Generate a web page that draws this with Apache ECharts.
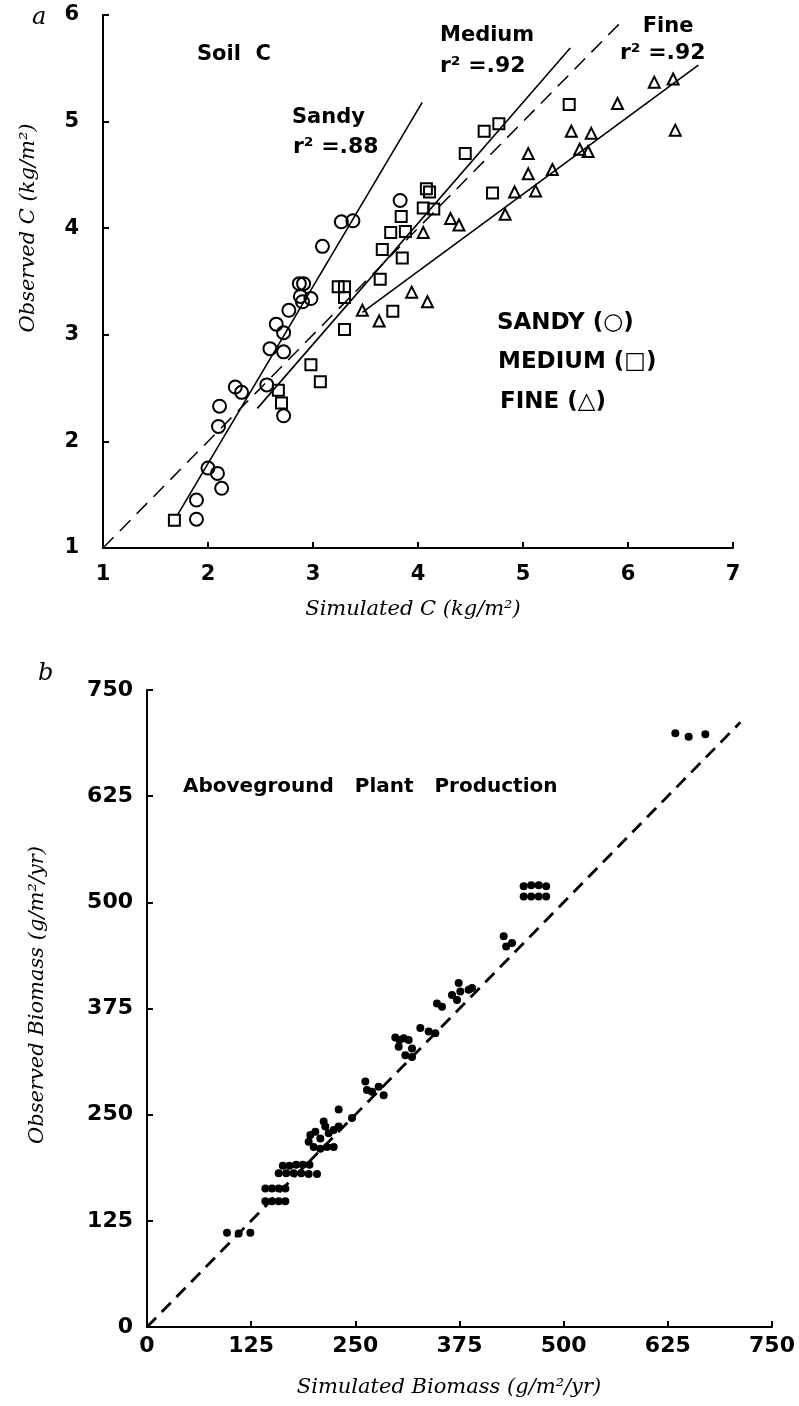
<!DOCTYPE html>
<html>
<head>
<meta charset="utf-8">
<script src="https://cdn.jsdelivr.net/npm/echarts@6/dist/echarts.min.js"></script>
<style>
  html, body { margin: 0; padding: 0; background: #fff; }
  #chart { width: 799px; height: 1406px; }
</style>
</head>
<body>
<div id="chart"></div>
<script>
// panel a: [simulated, observed] soil C, kg/m2
const sandyPts = [
  [1.89, 1.27], [1.89, 1.45], [2.0, 1.75], [2.09, 1.70], [2.13, 1.56],
  [2.10, 2.14], [2.11, 2.33], [2.26, 2.51], [2.32, 2.46], [2.56, 2.53],
  [2.72, 2.24], [2.59, 2.87], [2.72, 2.84], [2.65, 3.10], [2.72, 3.02],
  [2.77, 3.23], [2.88, 3.36], [2.90, 3.31], [2.98, 3.34], [2.87, 3.48],
  [2.91, 3.48], [3.09, 3.83], [3.27, 4.06], [3.38, 4.07], [3.83, 4.26]
];
const mediumPts = [
  [1.68, 1.26], [2.67, 2.48], [2.70, 2.36], [2.98, 2.72], [3.07, 2.56],
  [3.30, 3.05], [3.24, 3.45], [3.30, 3.45], [3.30, 3.35], [3.76, 3.22],
  [3.64, 3.52], [3.66, 3.80], [3.85, 3.72], [3.74, 3.96], [3.88, 3.97],
  [3.84, 4.11], [4.05, 4.19], [4.15, 4.18], [4.08, 4.37], [4.11, 4.34],
  [4.45, 4.70], [4.71, 4.33], [4.63, 4.91], [4.77, 4.98], [5.44, 5.16]
];
const finePts = [
  [3.47, 3.23], [3.63, 3.13], [3.94, 3.40], [4.09, 3.31], [4.05, 3.96],
  [4.31, 4.09], [4.39, 4.03], [4.83, 4.13], [4.92, 4.34], [5.12, 4.35],
  [5.05, 4.51], [5.05, 4.70], [5.28, 4.55], [5.46, 4.91], [5.65, 4.89],
  [5.54, 4.74], [5.62, 4.72], [5.90, 5.17], [6.25, 5.37], [6.43, 5.40],
  [6.45, 4.92]
];
// regression lines (end points) and 1:1 line
const sandyFit = [[1.71, 1.31], [4.04, 5.18]];
const mediumFit = [[2.47, 2.31], [5.45, 5.69]];
const fineFit = [[3.47, 3.21], [6.67, 5.53]];
const oneToOneA = [[1, 1], [5.95, 5.95]];

// panel b: [simulated, observed] biomass, g/m2/yr
const biomassPts = [
  [96, 111], [110, 110], [124, 111],
  [142, 163], [150, 163], [158, 163], [166, 163],
  [142, 148], [150, 148], [158, 148], [166, 148],
  [163, 190], [171, 190], [179, 191], [187, 191], [195, 191],
  [158, 181], [167, 181], [176, 181], [185, 181], [194, 180], [204, 180],
  [196, 226], [202, 230], [208, 222], [214, 236], [218, 228], [224, 232],
  [230, 236], [200, 212], [208, 210], [216, 212], [224, 212], [212, 242],
  [194, 218], [230, 256], [246, 246],
  [262, 289], [264, 279], [270, 277], [278, 283], [284, 273],
  [298, 341], [303, 338], [308, 340], [314, 338], [318, 328], [318, 318],
  [310, 320], [302, 330],
  [328, 352], [338, 348], [346, 346],
  [348, 381], [354, 377], [366, 391], [372, 385], [374, 405], [376, 395],
  [386, 397], [390, 399],
  [428, 460], [438, 452], [431, 448],
  [452, 519], [461, 520], [470, 520], [479, 519],
  [452, 507], [461, 507], [470, 507], [479, 507],
  [634, 699], [650, 695], [670, 698]
];
const oneToOneB = [[0, 0], [712, 712]];

const chart = echarts.init(document.getElementById('chart'));

const numFont = 'DejaVu Sans';
const capFont = '"DejaVu Serif", serif';

const axisCommon = {
  axisLine: { show: true, lineStyle: { color: '#000', width: 2 } },
  axisTick: { show: true, inside: true, length: 6, lineStyle: { color: '#000', width: 2 } },
  splitLine: { show: false },
  axisLabel: { color: '#000', fontFamily: numFont, fontWeight: 'bold', fontSize: 21 }
};

function axis(idx, min, max, step, extra) {
  return Object.assign({}, axisCommon, {
    gridIndex: idx, type: 'value', min: min, max: max, interval: step
  }, extra);
}

const hollow = { color: 'rgba(0,0,0,0)', borderColor: '#000', borderWidth: 2, opacity: 1 };

function txt(x, y, text, font, align, rot) {
  return {
    type: 'text', x: x, y: y, rotation: rot || 0, silent: true,
    style: {
      text: text, font: font, fill: '#000',
      align: align || 'left', verticalAlign: 'middle',
      textAlign: align || 'left', textVerticalAlign: 'middle'
    }
  };
}

const lblFont = 'bold 21px "DejaVu Sans"';
const legFont = 'bold 23px "DejaVu Sans"';

const option = {
  backgroundColor: '#fff',
  animation: false,
  grid: [
    { left: 103, top: 15, width: 630, height: 533 },
    { left: 147, top: 690, width: 625, height: 637 }
  ],
  xAxis: [
    axis(0, 1, 7, 1, { axisLabel: Object.assign({}, axisCommon.axisLabel, { margin: 16 }) }),
    axis(1, 0, 750, 125, { axisLabel: Object.assign({}, axisCommon.axisLabel, { margin: 8, fontSize: 22 }) })
  ],
  yAxis: [
    axis(0, 1, 6, 1, { axisLabel: Object.assign({}, axisCommon.axisLabel, { margin: 24 }) }),
    axis(1, 0, 750, 125, { axisLabel: Object.assign({}, axisCommon.axisLabel, { margin: 14, fontSize: 22 }) })
  ],
  series: [
    { type: 'scatter', name: 'Sandy', xAxisIndex: 0, yAxisIndex: 0, data: sandyPts,
      symbol: 'circle', symbolSize: 13, itemStyle: hollow, z: 3 },
    { type: 'scatter', name: 'Medium', xAxisIndex: 0, yAxisIndex: 0, data: mediumPts,
      symbol: 'rect', symbolSize: 11, itemStyle: hollow, z: 3 },
    { type: 'scatter', name: 'Fine', xAxisIndex: 0, yAxisIndex: 0, data: finePts,
      symbol: 'triangle', symbolSize: 11, itemStyle: hollow, z: 3 },
    { type: 'line', xAxisIndex: 0, yAxisIndex: 0, data: sandyFit, symbol: 'none',
      lineStyle: { color: '#000', width: 1.6 } },
    { type: 'line', xAxisIndex: 0, yAxisIndex: 0, data: mediumFit, symbol: 'none',
      lineStyle: { color: '#000', width: 1.6 } },
    { type: 'line', xAxisIndex: 0, yAxisIndex: 0, data: fineFit, symbol: 'none',
      lineStyle: { color: '#000', width: 1.6 } },
    { type: 'line', xAxisIndex: 0, yAxisIndex: 0, data: oneToOneA, symbol: 'none',
      lineStyle: { color: '#000', width: 1.5, type: [15, 9] } },
    { type: 'scatter', xAxisIndex: 1, yAxisIndex: 1, data: biomassPts,
      symbol: 'circle', symbolSize: 8, itemStyle: { color: '#000', opacity: 1 }, z: 3 },
    { type: 'line', xAxisIndex: 1, yAxisIndex: 1, data: oneToOneB, symbol: 'none',
      lineStyle: { color: '#000', width: 2.8, type: [13, 8] } }
  ],
  graphic: [
    txt(32, 18, 'a', 'italic 24px ' + capFont),
    txt(38, 674, 'b', 'italic 24px ' + capFont),
    txt(29, 228, 'Observed C (kg/m²)', 'italic 21px ' + capFont, 'center', Math.PI / 2),
    txt(413, 610, 'Simulated C (kg/m²)', 'italic 21px ' + capFont, 'center'),
    txt(38, 995, 'Observed Biomass (g/m²/yr)', 'italic 21px ' + capFont, 'center', Math.PI / 2),
    txt(449, 1388, 'Simulated Biomass (g/m²/yr)', 'italic 21px ' + capFont, 'center'),
    txt(197, 55, 'Soil  C', lblFont),
    txt(292, 118, 'Sandy', lblFont),
    txt(293, 147, 'r² =.88', 'bold 22px "DejaVu Sans"'),
    txt(440, 36, 'Medium', lblFont),
    txt(440, 66, 'r² =.92', 'bold 22px "DejaVu Sans"'),
    txt(668, 27, 'Fine', lblFont, 'center'),
    txt(620, 53, 'r² =.92', 'bold 22px "DejaVu Sans"'),
    txt(497, 323, 'SANDY (○)', legFont),
    txt(498, 362, 'MEDIUM (□)', legFont),
    txt(500, 402, 'FINE (△)', legFont),
    txt(183, 787, 'Aboveground   Plant   Production', 'bold 20px "DejaVu Sans"')
  ]
};

chart.setOption(option);
</script>
</body>
</html>
